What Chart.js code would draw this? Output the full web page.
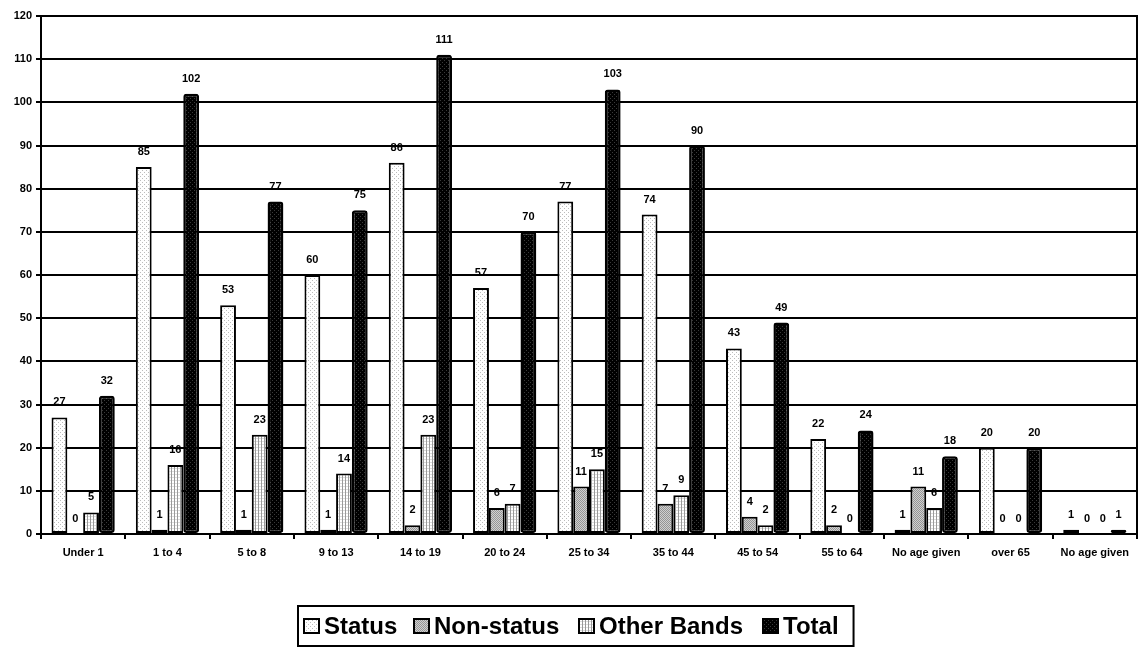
<!DOCTYPE html>
<html>
<head>
<meta charset="utf-8">
<script src="https://cdn.jsdelivr.net/npm/chart.js@4/dist/chart.umd.min.js"></script>
<style>
  html, body { margin: 0; padding: 0; background: #ffffff; }
  #wrap { width: 1138px; height: 648px; position: relative; }
</style>
</head>
<body>
<div id="wrap"><canvas id="c" width="1138" height="648"></canvas></div>
<script>
const categories = ['Under 1', '1 to 4', '5 to 8', '9 to 13', '14 to 19', '20 to 24', '25 to 34', '35 to 44', '45 to 54', '55 to 64', 'No age given', 'over 65', 'No age given'];
const statusValues = [27, 85, 53, 60, 86, 57, 77, 74, 43, 22, 1, 20, 1];
const nonStatusValues = [0, 1, 1, 1, 2, 6, 11, 7, 4, 2, 11, 0, 0];
const otherBandsValues = [5, 16, 23, 14, 23, 7, 15, 9, 2, 0, 6, 0, 0];
const totalValues = [32, 102, 77, 75, 111, 70, 103, 90, 49, 24, 18, 20, 1];
const seriesNames = ['Status', 'Non-status', 'Other Bands', 'Total'];
const yTicks = [0, 10, 20, 30, 40, 50, 60, 70, 80, 90, 100, 110, 120];

const FONT = "Arial, 'Liberation Sans', sans-serif";

function makePattern(size, bg, draw) {
  const c = document.createElement('canvas');
  c.width = size; c.height = size;
  const x = c.getContext('2d');
  x.fillStyle = bg; x.fillRect(0, 0, size, size);
  draw(x);
  return x.createPattern(c, 'repeat');
}
const patStatus = makePattern(4, '#ffffff', x => {
  x.fillStyle = '#bcbcbc'; x.fillRect(0, 0, 1, 1); x.fillRect(2, 2, 1, 1);
});
const patNon = makePattern(2, '#d0d0d0', x => {
  x.fillStyle = '#959595'; x.fillRect(0, 0, 1, 1); x.fillRect(1, 1, 1, 1);
});
const patOther = makePattern(3, '#ffffff', x => {
  x.fillStyle = '#9a9a9a'; x.fillRect(0, 0, 1, 3);
  x.fillStyle = '#dcdcdc'; x.fillRect(1, 0, 2, 1);
});
const patTotal = makePattern(4, '#000000', x => {
  x.fillStyle = '#3a3a3a'; x.fillRect(0, 0, 1, 1); x.fillRect(2, 2, 1, 1);
});
const fills = [patStatus, patNon, patOther, patTotal];

const valueLabels = {
  id: 'valueLabels',
  afterDatasetsDraw(chart) {
    const ctx = chart.ctx;
    ctx.save();
    ctx.font = 'bold 11px ' + FONT;
    ctx.fillStyle = '#000';
    ctx.textAlign = 'center';
    ctx.textBaseline = 'middle';
    chart.data.datasets.forEach((ds, di) => {
      const meta = chart.getDatasetMeta(di);
      meta.data.forEach((bar, i) => {
        ctx.fillText(String(ds.data[i]), bar.x, bar.y - 15);
      });
    });
    ctx.restore();
  }
};

const legendBoxX = [303, 413, 578, 762];

const frameAndLegend = {
  id: 'frameAndLegend',
  afterDraw(chart) {
    const ctx = chart.ctx;
    const a = chart.chartArea;
    ctx.save();
    ctx.strokeStyle = '#000';
    ctx.lineWidth = 2;
    ctx.beginPath();
    ctx.moveTo(a.right, a.top - 1);
    ctx.lineTo(a.right, a.bottom + 5);
    ctx.stroke();

    // legend
    ctx.font = 'bold 24px ' + FONT;
    ctx.textBaseline = 'alphabetic';
    ctx.textAlign = 'left';
    const base = 634;
    const boxW = 15, boxH = 14;
    let endX = 0;
    seriesNames.forEach((name, i) => {
      const x = legendBoxX[i];
      ctx.fillStyle = fills[i];
      ctx.fillRect(x + 1, base - boxH - 1, boxW, boxH);
      ctx.lineWidth = 2;
      ctx.strokeStyle = '#000';
      ctx.strokeRect(x + 1, base - boxH - 1, boxW, boxH);
      const tx = x + boxW + 6;
      ctx.fillStyle = '#000';
      ctx.fillText(name, tx, base);
      endX = tx + ctx.measureText(name).width;
    });
    ctx.lineWidth = 2;
    ctx.strokeRect(298, 606, (endX + 15) - 298, 40);
    ctx.restore();
  }
};

function ds(label, data, i) {
  return {
    label: label,
    data: data,
    backgroundColor: fills[i],
    borderColor: '#000',
    borderWidth: i === 3 ? 2.5 : 2,
    borderSkipped: false,
    borderRadius: i === 3 ? 3 : 0,
    categoryPercentage: 0.75,
    barPercentage: 1.0
  };
}

new Chart(document.getElementById('c'), {
  type: 'bar',
  data: {
    labels: categories,
    datasets: [
      ds(seriesNames[0], statusValues, 0),
      ds(seriesNames[1], nonStatusValues, 1),
      ds(seriesNames[2], otherBandsValues, 2),
      ds(seriesNames[3], totalValues, 3)
    ]
  },
  options: {
    responsive: false,
    animation: false,
    devicePixelRatio: 1,
    layout: { padding: { top: 16, right: 1, bottom: 0, left: 0 } },
    plugins: {
      legend: { display: false },
      tooltip: { enabled: false },
      title: { display: false }
    },
    scales: {
      x: {
        afterFit: s => { s.height = 114; },
        grid: {
          display: true,
          drawOnChartArea: false,
          drawTicks: true,
          tickLength: 5,
          color: '#000',
          lineWidth: 2,
          offset: true
        },
        border: { display: true, color: '#000', width: 2 },
        ticks: {
          color: '#000',
          font: { family: FONT, size: 11, weight: 'bold' },
          padding: 7,
          maxRotation: 0,
          autoSkip: false
        }
      },
      y: {
        min: 0,
        max: 120,
        afterFit: s => { s.width = 41; },
        afterBuildTicks: s => { s.ticks = yTicks.map(v => ({ value: v })); },
        grid: {
          color: '#000',
          lineWidth: 2,
          tickLength: 5,
          drawTicks: true
        },
        border: { display: true, color: '#000', width: 2 },
        ticks: {
          color: '#000',
          font: { family: FONT, size: 11, weight: 'bold' },
          padding: 4,
          stepSize: 10
        }
      }
    }
  },
  plugins: [valueLabels, frameAndLegend]
});
</script>
</body>
</html>
